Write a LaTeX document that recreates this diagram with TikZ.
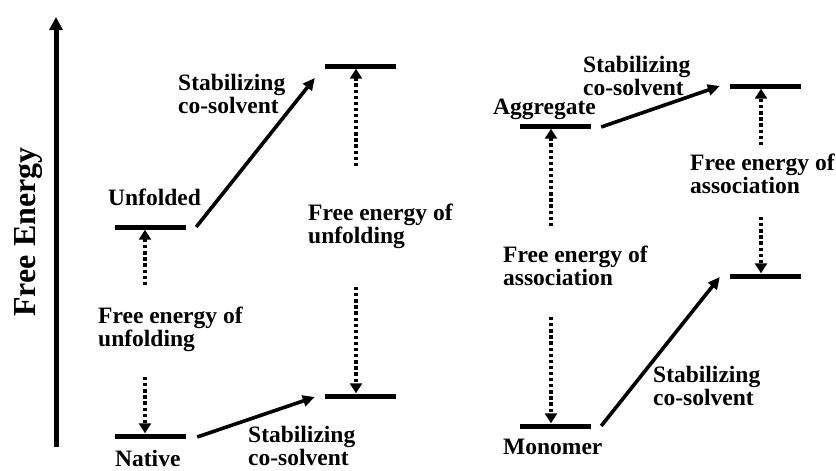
\documentclass[tikz,border=0pt]{standalone}
\usepackage{fontspec}
\setmainfont{Liberation Serif}
\usetikzlibrary{arrows.meta}
\begin{document}
\begin{tikzpicture}[x=1pt,y=-1pt,
  lbl/.style={font=\bfseries\fontsize{23.5}{23}\selectfont, inner sep=0pt, align=left, anchor=north west},
  bar/.style={fill=black, inner sep=0pt, minimum width=71pt, minimum height=5pt},
  solidarrow/.style={line width=3.6pt, -{Triangle[length=12pt,width=11pt]}},
  dotarrow/.style={line width=4pt, dash pattern=on 3.3pt off 2.8pt, -{Triangle[length=10pt,width=12pt]}},
  axisarrow/.style={line width=5pt, -{Triangle[length=13pt,width=13pt]}}]
\useasboundingbox (0,0) rectangle (836,471);
% axis
\coordinate (ax0) at (56,447);
\coordinate (ax1) at (56,17);
\draw[axisarrow] (ax0) -- (ax1);
\node[font=\bfseries\fontsize{32}{32}\selectfont, rotate=90, anchor=base, inner sep=0pt] (fe) at (35,232) {Free Energy};
% levels
\node[bar] (unf)  at (150.5,227) {};
\node[bar] (nat)  at (150.5,436) {};
\node[bar] (unfS) at (360.5,66) {};
\node[bar] (natS) at (360.5,396) {};
\node[bar] (agg)  at (555.5,126) {};
\node[bar] (mon)  at (555.5,426) {};
\node[bar] (aggS) at (765.5,86) {};
\node[bar] (monS) at (765.5,276) {};
% labels
\node[lbl] (l1) at (178,74) {Stabilizing\\co-solvent};
\node[lbl] (l2) at (108,189) {Unfolded};
\node[lbl] (l3) at (98,307) {Free energy of\\unfolding};
\node[lbl] (l4) at (115,450) {Native};
\node[lbl] (l5) at (248,426) {Stabilizing\\co-solvent};
\node[lbl] (l6) at (308,204) {Free energy of\\unfolding};
\node[lbl] (l7) at (583,56) {Stabilizing\\co-solvent};
\node[lbl] (l8) at (493,99) {Aggregate};
\node[lbl] (l9) at (503,246) {Free energy of\\association};
\node[lbl] (l10) at (503,439) {Monomer};
\node[lbl] (l11) at (690,154) {Free energy of\\association};
\node[lbl] (l12) at (653,366) {Stabilizing\\co-solvent};
% solid arrows
\draw[solidarrow] ([xshift=10pt]unf.east) -- ([shift={(-10pt,-12pt)}]unfS.west);
\draw[solidarrow] ([shift={(11pt,-1pt)}]nat.east) -- ([shift={(-10pt,-1pt)}]natS.west);
\draw[solidarrow] ([shift={(10pt,-1pt)}]agg.east) -- ([xshift=-10pt]aggS.west);
\draw[solidarrow] ([xshift=10pt]mon.east) -- ([shift={(-10pt,-1pt)}]monS.west);
% dotted arrows
\coordinate (d1) at (145,285);
\coordinate (d2) at (145,377);
\coordinate (d3) at (356,166);
\coordinate (d4) at (356,287);
\coordinate (d5) at (551,226);
\coordinate (d6) at (551,317);
\coordinate (d7) at (761,145);
\coordinate (d8) at (761,217);
\draw[dotarrow] (d1) -- (d1 |- unf.south);
\draw[dotarrow] (d2) -- (d2 |- nat.north);
\draw[dotarrow] (d3) -- (d3 |- unfS.south);
\draw[dotarrow] (d4) -- (d4 |- natS.north);
\draw[dotarrow] (d5) -- (d5 |- agg.south);
\draw[dotarrow] (d6) -- (d6 |- mon.north);
\draw[dotarrow] (d7) -- (d7 |- aggS.south);
\draw[dotarrow] (d8) -- (d8 |- monS.north);
\end{tikzpicture}
\end{document}
